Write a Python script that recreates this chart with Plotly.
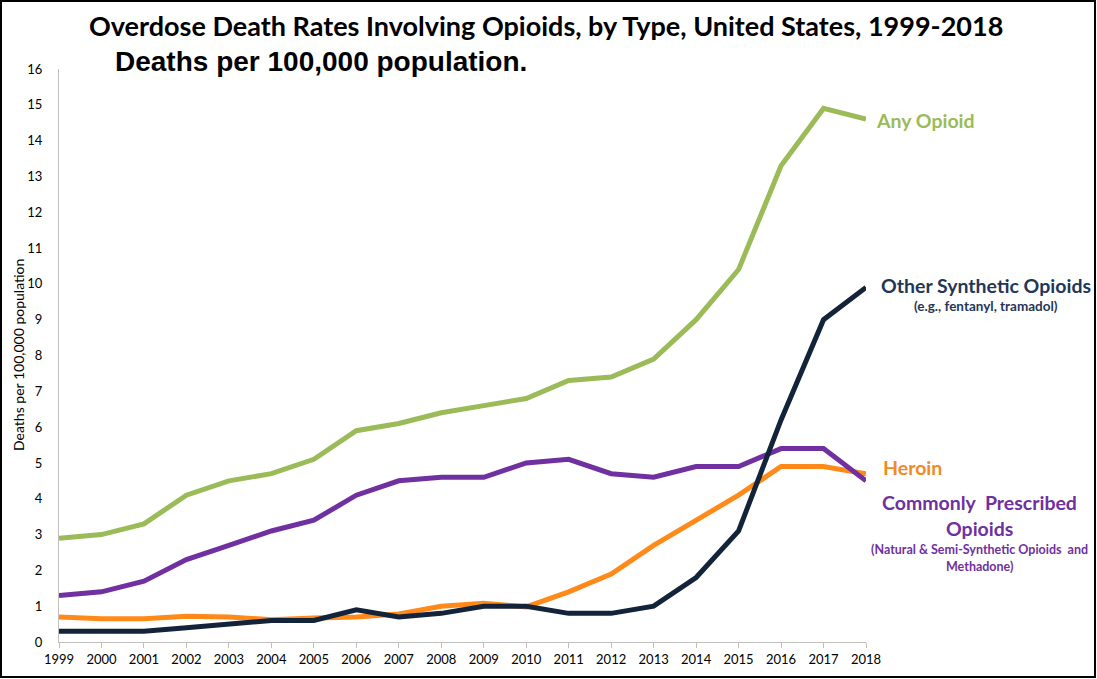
import plotly.graph_objects as go

W, H = 1097, 679
L, R, T, B = 59, 231, 69, 37

years = list(range(1999, 2019))
any_opioid = [2.9, 3.0, 3.3, 4.1, 4.5, 4.7, 5.1, 5.9, 6.1, 6.4, 6.6, 6.8, 7.3, 7.4, 7.9, 9.0, 10.4, 13.3, 14.9, 14.6]
prescribed = [1.3, 1.4, 1.7, 2.3, 2.7, 3.1, 3.4, 4.1, 4.5, 4.6, 4.6, 5.0, 5.1, 4.7, 4.6, 4.9, 4.9, 5.4, 5.4, 4.5]
heroin = [0.7, 0.65, 0.65, 0.72, 0.7, 0.62, 0.67, 0.7, 0.78, 1.0, 1.08, 0.98, 1.4, 1.9, 2.7, 3.4, 4.1, 4.9, 4.9, 4.7]
synthetic = [0.3, 0.3, 0.3, 0.4, 0.5, 0.6, 0.6, 0.9, 0.7, 0.8, 1.0, 1.0, 0.8, 0.8, 1.0, 1.8, 3.1, 6.2, 9.0, 9.9]
y_ticks = list(range(0, 17))

GREEN = "#9BBB59"
PURPLE = "#7030A0"
ORANGE = "#FF8A1A"
NAVY = "#13233A"
CAL = "Lato, Open Sans, sans-serif"


def px(x):
    return (x - L) / (W - L - R)


def py(y):
    return 1 - (y - T) / (H - T - B)


fig = go.Figure()
# drawing order follows the overlaps in the original
for vals, color in [(heroin, ORANGE), (prescribed, PURPLE), (synthetic, NAVY), (any_opioid, GREEN)]:
    fig.add_trace(go.Scatter(x=years, y=vals, mode="lines",
                             line=dict(color=color, width=5), hoverinfo="skip"))


def label(text, x, y, color, size, bold=True, angle=0):
    t = f"<b>{text}</b>" if bold else text
    fig.add_annotation(text=t, x=px(x), y=py(y), xref="paper", yref="paper",
                       xanchor="center", yanchor="middle", showarrow=False,
                       textangle=angle, font=dict(family=CAL, size=size, color=color))


label("Overdose Death Rates Involving Opioids, by Type, United States, 1999-2018", 546, 25, "#000000", 27)
fig.add_annotation(text="<b>Deaths per 100,000 population.</b>", x=px(321), y=py(62),
                   xref="paper", yref="paper", showarrow=False, xanchor="center", yanchor="middle",
                   font=dict(family="Liberation Sans, Arial", size=28, color="#000000"))

label("Any Opioid", 925, 120, GREEN, 19.5)
label("Other Synthetic Opioids", 986, 285, "#1F3759", 19.5)
label("(e.g., fentanyl, tramadol)", 986, 306, "#1F3759", 13.5)
label("Heroin", 913, 467, "#F08A24", 19.5)
label("Commonly  Prescribed", 979, 502, PURPLE, 19.5)
label("Opioids", 979, 528, PURPLE, 19.5)
label("(Natural &amp; Semi-Synthetic Opioids  and", 979, 549, PURPLE, 12.5)
label("Methadone)", 979, 566, PURPLE, 12.5)

# y axis title placed by hand to sit where the original has it
label("Deaths per 100,000 population", 18, 355, "#000000", 14, bold=False, angle=-90)

# thin frame around the whole picture
fig.add_shape(type="rect", xref="paper", yref="paper",
              x0=px(1), x1=px(W - 2), y0=py(H - 2), y1=py(1),
              line=dict(color="#000000", width=2))

fig.update_layout(
    width=W, height=H,
    margin=dict(l=L, r=R, t=T, b=B),
    paper_bgcolor="white", plot_bgcolor="white",
    showlegend=False,
    font=dict(family=CAL, size=13, color="#000000"),
)
fig.update_xaxes(range=[1999, 2018], tickvals=years, showgrid=False, zeroline=False,
                 showline=True, linecolor="#BFBFBF", linewidth=1,
                 ticks="outside", ticklen=5, tickcolor="#BFBFBF",
                 tickfont=dict(family=CAL, size=13, color="#000000"))
fig.update_yaxes(range=[0, 16], tickvals=y_ticks, showgrid=False, zeroline=False,
                 showline=True, linecolor="#BFBFBF", linewidth=1, ticks="",
                 ticklabelstandoff=13,
                 tickfont=dict(family=CAL, size=13, color="#000000"))

# the page's default body margin would shift the figure by 8px
fig.write_html("out.html", config={"displayModeBar": False},
               post_script="document.body.style.margin='0';")
